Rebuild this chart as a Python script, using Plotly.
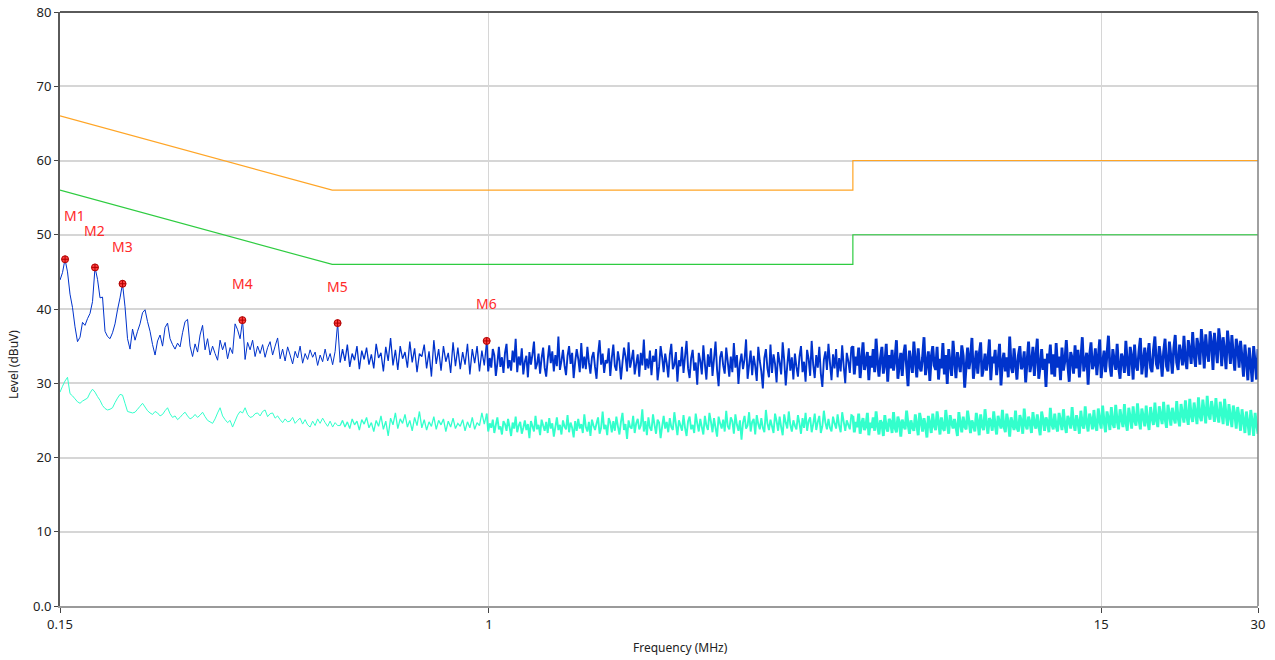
import numpy as np
import plotly.graph_objects as go

# limit lines (EN 55032 class B style)
limit_f = [0.15, 0.5, 5.0, 5.0, 30.0]
limit_qp = [66, 56, 56, 60, 60]
limit_av = [56, 46, 46, 50, 50]

seg_edges = [0.15, 0.5178, 0.99, 5.0, 30.0]

peak_lo = [43.9, 44.9, 46.7, 45.0, 42.0, 40.2, 37.6, 35.6, 36.2, 38.2,
           37.8, 38.7, 39.4, 41.0, 45.6, 44.0, 41.5, 41.6, 37.0, 36.3,
           36.0, 36.8, 38.0, 39.9, 41.5, 43.4, 40.3, 36.0, 34.6, 37.3,
           35.8, 37.0, 38.0, 39.5, 39.9, 38.3, 37.0, 35.2, 33.8, 35.7,
           36.5, 35.0, 37.5, 38.1, 36.0, 35.2, 34.6, 35.4, 34.9, 36.8,
           38.3, 38.6, 35.0, 33.6, 35.3, 34.2, 36.5, 37.8, 34.5, 36.0,
           33.8, 35.0, 34.0, 33.1, 35.8, 34.5, 35.5, 33.3, 34.8, 34.0,
           38.0, 37.2, 36.0, 38.5, 33.2, 35.5, 34.5, 35.8, 33.6, 35.0,
           34.0, 35.2, 33.5, 34.8, 35.6, 33.8, 35.0, 36.1, 33.3, 34.6,
           33.0, 34.9, 33.8, 32.6, 34.3, 33.4, 35.0, 32.7, 34.0, 33.2,
           34.5, 33.5, 34.2, 32.4, 33.8, 32.9, 34.6, 33.0, 34.0, 32.5,
           34.3, 38.1]
peak_a = [32.8, 34.6, 33.0, 35.2, 32.2, 34.0, 33.1, 35.0, 31.9, 34.4,
          33.2, 34.8, 32.5, 33.9, 32.0, 35.3, 33.4, 34.1, 31.6, 34.9,
          33.0, 36.1, 32.4, 34.5, 31.8, 35.0, 33.3, 34.2, 32.1, 35.6,
          32.8, 34.7, 31.5, 34.0, 33.6, 35.2, 32.0, 34.3, 30.9, 35.8,
          32.6, 34.6, 31.7, 35.0, 32.9, 34.1, 31.4, 35.5, 32.3, 34.8,
          31.9, 34.2, 32.5, 35.3, 31.2, 34.6, 32.7, 35.0, 31.6, 34.4, 32.4]
peak_b = [35.7, 31.6, 33.4, 32.1, 34.6, 33.8, 31.0, 32.7, 34.9, 32.2, 33.5, 31.4,
          34.1, 35.3, 32.0, 33.1, 31.7, 34.4, 32.8, 36.0, 31.5, 33.6, 32.4, 34.7,
          31.2, 32.9, 33.7, 30.8, 34.2, 32.5, 33.9, 35.6, 31.9, 32.6, 34.0, 31.3,
          33.4, 34.8, 32.1, 30.9, 33.2, 35.1, 32.7, 34.3, 31.6, 33.8, 32.3, 36.3,
          31.8, 33.0, 34.5, 32.4, 31.1, 33.7, 35.0, 32.6, 34.1, 30.7, 32.9, 34.6,
          33.3, 31.5, 35.4, 32.0, 33.6, 31.9, 34.9, 32.8, 31.3, 33.5, 34.2, 32.2,
          30.6, 33.9, 35.8, 32.5, 34.0, 31.4, 33.1, 32.7, 34.7, 31.0, 33.4, 35.2,
          32.3, 31.7, 34.3, 33.0, 30.5, 32.8, 34.8, 33.6, 31.6, 35.5, 32.1, 33.2,
          34.5, 31.2, 32.6, 33.9, 30.9, 34.1, 32.4, 35.9, 31.8, 33.3, 32.0, 34.4,
          31.1, 33.7, 32.9, 34.6, 30.4, 32.2, 35.0, 33.5, 31.5, 34.0, 32.7, 30.8,
          33.8, 35.3, 31.9, 32.5, 34.2, 30.2, 33.1, 32.3, 34.9, 31.4, 33.6, 35.7,
          32.0, 30.7, 33.4, 34.5, 31.7, 32.8, 29.8, 34.1, 33.0, 31.2, 35.1, 32.6,
          30.5, 33.9, 32.2, 34.7, 31.0, 33.3, 35.6, 31.8, 29.6, 33.5, 34.3, 32.4,
          31.3, 34.8, 32.9, 30.9, 33.6, 31.5, 35.4, 32.1, 33.8, 29.9, 32.7, 34.0,
          31.9, 33.2, 35.9, 30.6, 32.5, 34.4, 31.1, 33.7, 32.3, 30.3, 34.9, 33.0,
          31.6, 29.3, 33.4, 34.6, 32.0, 30.8, 35.2, 31.4, 33.9, 32.6, 30.1, 34.2,
          32.8, 31.2, 35.5, 33.1, 29.7, 32.4, 34.7, 31.7, 33.5, 30.5, 34.0, 32.2,
          30.9, 33.6, 35.0, 31.5, 32.9, 30.2, 34.5, 33.3, 31.0, 35.7, 32.5, 30.7,
          33.8, 32.1, 34.9, 31.3, 29.5, 33.2, 34.3, 31.8, 35.3, 32.7, 30.4, 33.9,
          32.0, 34.6, 30.8, 33.4, 31.6, 35.1, 32.3, 30.0, 34.1, 33.0, 31.4, 34.8]
peak_c = [35.0, 31.2, 33.6, 32.4, 34.8, 30.7, 33.1, 35.5, 31.8, 32.9, 34.2, 30.4, 33.7, 32.1,
          34.6, 31.5, 36.0, 32.8, 30.9, 33.4, 34.9, 31.3, 32.6, 35.3, 30.2, 33.8, 32.0, 34.5,
          31.7, 33.2, 35.8, 30.6, 32.5, 34.1, 31.0, 33.9, 35.2, 32.3, 29.6, 34.4, 32.9, 31.4,
          35.6, 33.0, 30.8, 34.7, 32.2, 31.6, 33.5, 36.2, 31.1, 32.7, 34.3, 30.3, 33.6, 35.0,
          32.4, 31.8, 34.9, 30.5, 33.3, 32.0, 35.4, 31.2, 33.8, 29.9, 34.6, 32.6, 31.0, 35.7,
          33.1, 30.7, 34.2, 32.8, 31.5, 35.1, 33.7, 29.4, 32.3, 34.8, 31.9, 33.4, 36.1, 30.6,
          32.5, 34.4, 31.3, 33.9, 35.5, 30.9, 32.1, 34.0, 31.7, 33.2, 35.9, 30.4, 33.6, 32.7,
          34.5, 31.1, 33.0, 35.3, 29.7, 32.9, 34.1, 31.6, 33.5, 30.8, 36.3, 32.2, 31.4, 34.7,
          32.6, 30.5, 33.8, 35.0, 31.9, 32.4, 34.3, 30.1, 33.1, 35.6, 31.5, 32.8, 34.9, 31.0,
          33.7, 36.0, 30.6, 32.3, 34.6, 31.8, 33.3, 29.5, 34.0, 32.7, 35.2, 31.2, 33.9, 30.9,
          35.4, 32.1, 33.6, 30.4, 34.8, 31.7, 33.0, 35.8, 32.5, 30.2, 34.2, 33.4, 31.3, 35.1,
          32.0, 34.5, 30.8, 33.2, 36.2, 31.6, 32.9, 34.1, 29.8, 33.7, 35.5, 31.9, 32.6, 34.7,
          31.1, 33.5, 35.9, 30.7, 32.8, 34.4, 31.5, 33.9, 36.4, 32.3, 30.9, 34.6, 33.1, 31.8,
          35.3, 32.2, 30.6, 34.0, 33.3, 31.4, 35.7, 32.7, 31.0, 34.9, 33.6, 30.5, 35.2, 32.4,
          31.7, 34.3, 36.1, 31.2, 33.0, 34.8, 30.8, 33.8, 35.4, 32.1, 31.5, 34.5, 36.3, 32.6,
          31.9, 35.0, 33.4, 30.9, 34.2, 36.0, 32.3, 31.6, 35.6, 33.7, 31.3, 34.7, 36.5, 32.8,
          31.8, 35.2, 34.0, 32.4, 36.4, 33.1, 31.9, 35.8, 34.5, 32.6, 36.9, 33.8, 32.2, 36.1,
          34.9, 32.5, 37.3, 35.1, 32.0, 36.6, 34.2, 32.9, 37.0, 35.4, 31.8, 36.8, 34.7, 32.7,
          37.4, 35.6, 32.3, 36.2, 34.4, 31.9, 37.1, 35.0, 32.6, 36.5, 33.9, 31.7, 36.0, 34.8,
          32.1, 35.7, 33.5, 30.9, 35.2, 33.0, 30.4, 34.8, 32.6, 30.2, 35.0, 32.8, 30.5, 34.6]

avg_lo = [28.8, 29.6, 30.3, 30.8, 28.6, 28.3, 27.9, 27.5, 27.3, 27.6,
          27.8, 28.0, 28.7, 29.2, 28.8, 28.2, 27.7, 27.0, 26.6, 26.4,
          26.5, 26.7, 27.4, 28.0, 28.5, 28.4, 27.3, 26.2, 26.1, 26.0,
          26.1, 26.5, 26.9, 27.3, 26.8, 26.3, 26.0, 25.8, 26.2, 26.0,
          25.6, 25.8, 26.3, 26.7, 25.9, 25.4, 25.6, 25.1, 25.4, 25.8,
          26.1, 25.6, 25.2, 25.4, 25.8, 25.4, 25.7, 26.1, 25.5, 25.0,
          24.8, 24.6, 25.2, 26.0, 26.7, 25.6, 25.1, 24.7, 25.0, 24.1,
          24.9, 25.7, 26.2, 26.0, 26.7, 25.8, 25.4, 25.5, 25.9, 26.0,
          25.6, 26.2, 26.4, 25.5, 25.9, 26.0, 25.3, 25.6, 25.1, 24.7,
          25.2, 24.8, 24.9, 25.4, 24.6, 25.0, 25.3, 24.5, 25.1, 24.4,
          24.1, 24.9, 24.3, 25.2, 24.6, 25.3, 24.7, 24.2, 24.9, 24.1,
          24.7, 24.3]
avg_a = [24.3, 25.0, 24.1, 24.8, 23.9, 25.2, 24.4, 24.9, 23.7, 25.1,
         24.5, 25.4, 24.0, 24.7, 23.5, 25.0, 24.2, 25.6, 23.8, 24.9,
         22.9, 25.3, 24.4, 26.0, 23.9, 25.2, 24.6, 25.8, 24.1, 25.0,
         23.6, 25.4, 24.3, 26.2, 24.0, 25.1, 23.7, 24.8, 24.2, 25.5,
         23.8, 25.0, 24.4, 25.2, 23.5, 24.9, 24.1, 25.3, 23.9, 24.6,
         24.2, 25.1, 23.6, 24.8, 24.0, 25.4, 23.8, 24.7, 24.3, 26.0, 24.5]
avg_b = [25.9, 23.5, 24.6, 24.0, 25.1, 23.3, 24.4, 25.4, 23.8, 24.2, 23.1, 24.9,
         24.5, 23.6, 25.2, 24.1, 22.9, 24.7, 23.9, 25.5, 23.4, 24.3, 24.8, 23.2,
         24.0, 25.0, 23.7, 24.5, 22.6, 24.9, 24.2, 23.5, 25.6, 23.8, 24.4, 23.0,
         25.1, 24.3, 23.6, 24.8, 23.3, 25.3, 23.9, 24.6, 22.8, 24.1, 25.4, 23.7,
         24.4, 23.1, 25.0, 24.2, 23.8, 25.7, 23.4, 24.7, 24.0, 22.7, 24.9, 23.6,
         25.2, 23.9, 24.5, 23.3, 25.8, 24.1, 23.5, 24.8, 22.9, 25.1, 24.3, 23.7,
         24.6, 25.4, 23.2, 24.0, 26.2, 23.8, 24.4, 23.0, 25.3, 24.7, 23.4, 24.9,
         23.6, 25.5, 24.2, 23.1, 24.8, 26.0, 23.7, 24.5, 22.5, 25.0, 24.1, 23.9,
         25.6, 23.3, 24.6, 25.2, 23.8, 24.3, 26.5, 23.5, 24.9, 23.0, 25.4, 24.0,
         23.6, 25.8, 24.4, 23.2, 25.1, 24.7, 22.6, 24.2, 25.6, 23.9, 24.8, 23.4,
         25.3, 24.1, 23.7, 26.1, 24.5, 23.0, 25.0, 24.3, 23.6, 25.7, 24.0, 22.9,
         24.9, 25.5, 23.8, 24.4, 23.3, 25.9, 24.6, 23.5, 25.2, 24.1, 23.1, 25.6,
         24.3, 23.7, 26.0, 24.8, 23.4, 25.3, 24.0, 22.8, 25.5, 24.6, 23.9, 25.1,
         23.5, 26.3, 24.2, 23.8, 25.4, 24.9, 23.2, 25.8, 24.4, 23.6, 25.0, 22.4,
         24.7, 25.6, 23.9, 24.3, 26.1, 23.5, 24.8, 25.2, 23.1, 25.7, 24.5, 23.8,
         25.3, 24.0, 23.4, 26.4, 24.6, 23.7, 25.1, 24.2, 23.3, 25.9, 24.9, 23.6,
         25.5, 24.1, 23.0, 25.8, 24.7, 23.9, 26.2, 24.4, 23.5, 25.0, 24.3, 23.8,
         25.7, 24.6, 23.2, 25.3, 24.0, 26.0, 23.6, 24.9, 25.4, 23.4, 24.5, 25.9,
         23.7, 24.8, 25.6, 23.3, 24.2, 26.3, 24.7, 23.8, 25.2, 24.0, 23.5, 25.5,
         24.6, 23.9, 25.8, 24.3, 23.4, 26.1, 24.8, 23.6, 25.0, 24.4, 23.8, 25.7]
avg_c = [25.6, 23.4, 24.8, 24.1, 25.9, 23.2, 24.5, 25.3, 23.7, 24.2, 26.0, 23.0, 24.7, 24.0,
         25.4, 23.6, 26.2, 24.3, 23.1, 25.0, 24.6, 22.9, 25.7, 24.1, 23.5, 25.2, 24.8, 23.3,
         26.1, 24.0, 23.4, 25.5, 24.7, 22.8, 25.1, 24.3, 23.8, 26.3, 24.5, 23.2, 25.0, 24.1,
         23.6, 25.8, 24.4, 23.0, 26.0, 24.9, 23.5, 25.3, 24.2, 22.7, 25.6, 24.6, 23.3, 25.9,
         24.3, 23.7, 26.2, 24.8, 23.1, 25.4, 24.0, 23.6, 26.4, 24.5, 23.2, 25.7, 24.7, 23.9,
         25.2, 24.1, 22.9, 26.1, 24.6, 23.4, 25.5, 24.2, 23.8, 26.3, 24.9, 23.3, 25.0, 24.4,
         23.5, 26.0, 24.8, 23.0, 25.8, 24.3, 23.7, 26.5, 24.6, 23.2, 25.3, 24.9, 23.6, 26.2,
         24.4, 23.1, 25.6, 24.7, 23.9, 26.4, 24.2, 23.4, 25.9, 24.8, 22.8, 25.4, 24.5, 23.7,
         26.3, 24.0, 23.5, 25.7, 24.9, 23.2, 26.6, 24.4, 23.8, 25.5, 24.7, 23.3, 26.1, 24.6,
         23.9, 25.8, 24.3, 23.0, 26.2, 25.1, 23.6, 25.4, 24.8, 23.4, 26.7, 24.5, 23.8, 25.9,
         24.2, 23.5, 26.0, 24.9, 23.7, 26.5, 24.4, 23.3, 25.6, 25.0, 23.9, 26.8, 24.6, 23.6,
         25.7, 24.8, 23.2, 26.3, 24.5, 23.9, 26.9, 24.7, 23.5, 25.9, 25.1, 23.8, 26.4, 24.3,
         23.6, 26.6, 25.0, 23.9, 27.0, 24.8, 23.4, 26.2, 25.3, 23.7, 26.8, 24.6, 24.0, 27.1,
         24.9, 23.8, 26.5, 25.2, 24.1, 27.2, 24.7, 23.6, 26.7, 25.4, 23.9, 26.9, 25.0, 24.3,
         27.3, 25.1, 23.8, 26.6, 25.5, 24.2, 27.0, 24.9, 23.7, 26.8, 25.3, 24.4, 27.4, 25.0,
         24.1, 26.9, 25.6, 24.5, 27.5, 25.2, 24.0, 27.1, 25.8, 24.3, 26.7, 25.4, 24.6, 27.6,
         25.3, 24.2, 27.2, 25.9, 24.7, 27.7, 25.5, 24.4, 27.9, 25.7, 24.8, 27.4, 26.0, 24.5,
         28.1, 25.6, 24.9, 27.8, 26.2, 24.6, 28.3, 25.9, 25.1, 27.6, 26.4, 24.8, 28.0, 25.7,
         24.7, 27.5, 26.1, 24.5, 27.9, 25.8, 24.3, 27.2, 25.5, 24.1, 27.0, 25.9, 23.9, 26.8,
         25.4, 23.6, 26.5, 25.0, 23.3, 26.2, 24.7, 23.0, 26.4, 24.9, 22.9, 26.0, 24.5, 23.2]

# markers
mk_names = ["M1", "M2", "M3", "M4", "M5", "M6"]
mk_freq = [0.1534, 0.1751, 0.1978, 0.336, 0.512, 0.99]
mk_level = [46.7, 45.6, 43.4, 38.5, 38.1, 35.7]

# line width per sweep segment: the dense high-frequency part of the
# receiver sweep renders as a filled band
seg_widths = [1.0, 1.3, 1.9, 2.8]


def sweep_segments(segs):
    # (freqs, levels) for each segment, each one joined to the next segment's first point
    out = []
    for j, seg in enumerate(segs):
        last = j == len(segs) - 1
        f = list(np.geomspace(seg_edges[j], seg_edges[j + 1], len(seg), endpoint=last))
        v = list(seg)
        if not last:
            f.append(seg_edges[j + 1])
            v.append(segs[j + 1][0])
        out.append((f, v))
    return out


fig = go.Figure()
fig.add_trace(go.Scatter(x=limit_f, y=limit_qp, mode="lines",
                         line=dict(color="#ffa526", width=1.2), name="QP limit"))
fig.add_trace(go.Scatter(x=limit_f, y=limit_av, mode="lines",
                         line=dict(color="#2ecc40", width=1.2), name="AV limit"))
# simplify=False keeps every sweep point, otherwise plotly thins the dense noise
for (f, v), w in zip(sweep_segments([avg_lo, avg_a, avg_b, avg_c]), seg_widths):
    fig.add_trace(go.Scatter(x=f, y=v, mode="lines",
                             line=dict(color="#33ffcc", width=w, simplify=False),
                             name="Average"))
for (f, v), w in zip(sweep_segments([peak_lo, peak_a, peak_b, peak_c]), seg_widths):
    fig.add_trace(go.Scatter(x=f, y=v, mode="lines",
                             line=dict(color="#0033cc", width=w, simplify=False),
                             name="Peak"))
fig.add_trace(go.Scatter(x=mk_freq, y=mk_level, mode="markers",
                         marker=dict(symbol="circle-cross", size=7, color="#ff4040",
                                     line=dict(color="#b00000", width=1)),
                         name="Markers"))

for i, name in enumerate(mk_names):
    fig.add_annotation(x=np.log10(mk_freq[i]), y=mk_level[i], text=name,
                       showarrow=False, yshift=44 if i == 0 else 37,
                       xshift=9 if i == 0 else 0,
                       font=dict(color="#ff2a2a", size=14))

fig.add_annotation(xref="paper", yref="paper", x=0.518, y=-0.0875, text="Frequency (MHz)",
                   showarrow=False, font=dict(size=12, color="#222"))
fig.add_annotation(xref="paper", yref="paper", x=-0.047, y=0.406, text="Level (dBuV)",
                   textangle=-90, showarrow=False, font=dict(size=12, color="#222"))

# plot frame (top and right)
fig.add_shape(type="line", xref="paper", yref="paper", x0=0, x1=1, y0=1, y1=1,
              line=dict(color="#5a5a5a", width=2))
fig.add_shape(type="line", xref="paper", yref="paper", x0=1, x1=1, y0=0, y1=1,
              line=dict(color="#808080", width=1.5))

fig.update_xaxes(type="log", range=[np.log10(0.15), np.log10(30)],
                 tickvals=[0.15, 1, 15, 30], ticktext=["0.15", "1", "15", "30"],
                 showgrid=True, gridcolor="#d6d6d6", gridwidth=1,
                 showline=True, linecolor="#9a9a9a", linewidth=2,
                 ticks="outside", ticklen=5, tickcolor="#444", automargin=False,
                 tickfont=dict(size=13, color="#222"), zeroline=False)
fig.update_yaxes(range=[0, 80], tickvals=[0, 10, 20, 30, 40, 50, 60, 70, 80],
                 ticktext=["0.0", "10", "20", "30", "40", "50", "60", "70", "80"],
                 showgrid=True, gridcolor="#d6d6d6", gridwidth=1.5,
                 showline=True, linecolor="#5a5a5a", linewidth=2,
                 ticks="outside", ticklen=4, tickcolor="#444", automargin=False,
                 tickfont=dict(size=13, color="#222"), zeroline=False)

fig.update_layout(width=1275, height=660, showlegend=False,
                  margin=dict(l=60, r=17, t=12, b=54),
                  plot_bgcolor="white", paper_bgcolor="white",
                  font=dict(family="Noto Sans, Open Sans, sans-serif"))

# the page body has a default 8px margin; drop it so the figure sits at the window origin
fig.write_html("out.html", config={"displayModeBar": False},
               post_script="document.body.style.margin='0';")
